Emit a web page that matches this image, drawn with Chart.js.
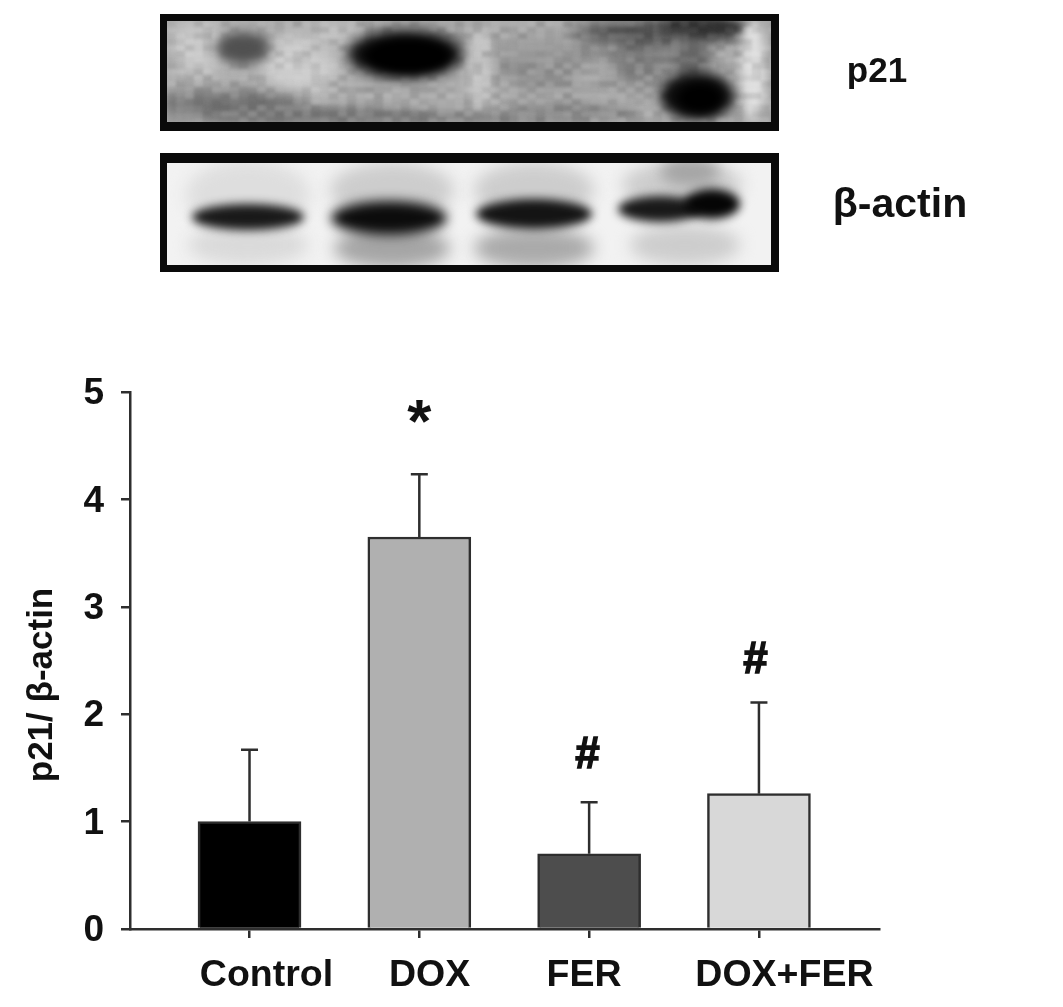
<!DOCTYPE html>
<html>
<head>
<meta charset="utf-8">
<style>html,body{margin:0;padding:0;background:#fff}canvas{display:block}</style>
<script src="https://cdn.jsdelivr.net/npm/chart.js@4"></script>
</head>
<body>
<canvas id="c" width="1063" height="1007"></canvas>
<script>
const categories = ["Control", "DOX", "FER", "DOX+FER"];
const means = [1.0, 3.65, 0.70, 1.26];
const errorTops = [1.67, 4.235, 1.18, 2.11];
const barColors = ["#000000", "#b0b0b0", "#4d4d4d", "#d8d8d8"];
const labelPositions = [0.1, 1.06, 1.97, 3.15];
const marks = ["", "*", "#", "#"];
const markValues = [0, 4.69, 1.61, 2.50];
const markPositions = [0, 1, 1.99, 2.98];
const yTitle = "p21/ β-actin";
const blotLabels = ["p21", "β-actin"];

const FONT = '"Liberation Sans", Arial, sans-serif';
const INK = "#2e2e2e";

/* Western-blot panels: [cx, cy, rx, ry, grey, blur] */
const blot1Back = [
  [195,50,28,30,200,9],[300,65,40,30,205,10],[340,40,30,20,190,8],[480,70,16,40,195,5],
  [235,105,75,14,120,7],[320,116,110,9,125,5],[450,118,120,6,130,4],[570,112,70,10,140,5],
  [550,65,55,28,150,10],[610,80,35,22,165,8],[640,60,30,25,130,9],
  [655,32,85,13,80,8],[700,28,45,11,50,5],[690,58,22,20,110,7],[753,70,12,50,222,4]
];
const blot1Bands = [
  [243,48,27,16,80,6],[405,54,58,24,10,7],[408,56,42,17,0,4],[697,96,37,24,12,6],[700,98,22,14,0,4]
];
const blot2Back = [
  [248,195,62,35,222,8],[248,245,60,20,218,8],[392,190,62,28,205,8],[392,248,58,20,165,8],
  [534,190,60,28,205,8],[534,248,60,20,170,8],[682,185,60,24,205,8],[685,245,55,20,205,8],
  [690,172,30,14,165,7]
];
const blot2Bands = [
  [248,217,56,13,25,5],[389,218,58,17,12,6],[534,214,58,15,20,5],[660,209,42,13,25,5],[712,204,28,15,5,5]
];
const grainCell = [9, 6];

function hash(a, b) {
  const v = Math.sin(a * 12.9898 + b * 78.233) * 43758.5453;
  return v - Math.floor(v);
}

function paintSpots(ctx, spots) {
  for (const s of spots) {
    ctx.filter = "blur(" + s[5] + "px)";
    ctx.fillStyle = "rgb(" + s[4] + "," + s[4] + "," + s[4] + ")";
    ctx.beginPath();
    ctx.ellipse(s[0], s[1], s[2], s[3], 0, 0, Math.PI * 2);
    ctx.fill();
  }
}

function drawBlot(ctx, box, inner, base, back, bands, grain) {
  ctx.save();
  ctx.fillStyle = base;
  ctx.fillRect(inner[0], inner[1], inner[2] - inner[0], inner[3] - inner[1]);
  ctx.beginPath();
  ctx.rect(inner[0], inner[1], inner[2] - inner[0], inner[3] - inner[1]);
  ctx.clip();
  paintSpots(ctx, back);
  if (grain) {
    ctx.filter = "blur(1.8px)";
    for (let gx = inner[0]; gx < inner[2]; gx += grainCell[0]) {
      for (let gy = inner[1]; gy < inner[3]; gy += grainCell[1]) {
        const h = hash(gx, gy);
        ctx.fillStyle = h > 0.5 ? "rgba(255,255,255," + (h - 0.5) * grain + ")" : "rgba(0,0,0," + (0.5 - h) * grain + ")";
        ctx.fillRect(gx, gy, grainCell[0], grainCell[1]);
      }
    }
  }
  paintSpots(ctx, bands);
  ctx.restore();
  ctx.save();
  ctx.fillStyle = "#0a0a0a";
  ctx.fillRect(box[0], box[1], box[2] - box[0], inner[1] - box[1]);
  ctx.fillRect(box[0], inner[3], box[2] - box[0], box[3] - inner[3]);
  ctx.fillRect(box[0], box[1], inner[0] - box[0], box[3] - box[1]);
  ctx.fillRect(inner[2], box[1], box[2] - inner[2], box[3] - box[1]);
  ctx.restore();
}

const figurePlugin = {
  id: "figure",
  beforeDraw(chart) {
    const ctx = chart.ctx;
    ctx.save();
    ctx.fillStyle = "#fff";
    ctx.fillRect(0, 0, chart.width, chart.height);
    ctx.restore();
    drawBlot(ctx, [160, 14, 779, 131], [167, 21, 771, 122], "rgb(172,172,172)", blot1Back, blot1Bands, 0.22);
    drawBlot(ctx, [160, 153, 779, 272], [167, 163, 771, 265], "rgb(242,242,242)", blot2Back, blot2Bands, 0);
    ctx.save();
    ctx.fillStyle = "#111";
    ctx.textAlign = "center";
    ctx.textBaseline = "alphabetic";
    ctx.font = "bold 35px " + FONT;
    ctx.fillText(blotLabels[0], 877, 82);
    ctx.font = "bold 41px " + FONT;
    ctx.fillText(blotLabels[1], 900, 217);
    ctx.restore();
  },
  afterDatasetsDraw(chart) {
    const ctx = chart.ctx, x = chart.scales.x, y = chart.scales.y;
    ctx.save();
    ctx.strokeStyle = INK;
    ctx.lineWidth = 2.5;
    errorTops.forEach((v, i) => {
      const px = x.getPixelForValue(i), top = y.getPixelForValue(v), base = y.getPixelForValue(means[i]);
      ctx.beginPath();
      ctx.moveTo(px, base); ctx.lineTo(px, top);
      ctx.moveTo(px - 8.5, top); ctx.lineTo(px + 8.5, top);
      ctx.stroke();
    });
    ctx.fillStyle = "#111";
    ctx.strokeStyle = "#111";
    ctx.textAlign = "center";
    ctx.textBaseline = "middle";
    marks.forEach((m, i) => {
      if (!m) return;
      ctx.font = "bold " + (m === "*" ? 62 : 44) + "px " + FONT;
      const mx = x.getPixelForValue(markPositions[i]), my = y.getPixelForValue(markValues[i]);
      ctx.fillText(m, mx, my);
      if (m === "#") { ctx.lineWidth = 1.5; ctx.strokeText(m, mx, my); }
    });
    ctx.font = "bold 37.5px " + FONT;
    ctx.textBaseline = "alphabetic";
    categories.forEach((c, i) => {
      ctx.fillText(c, x.getPixelForValue(labelPositions[i]), 986);
    });
    ctx.translate(52, 685);
    ctx.rotate(-Math.PI / 2);
    ctx.font = "bold 35px " + FONT;
    ctx.fillText(yTitle, 0, 0);
    ctx.restore();
  }
};

new Chart(document.getElementById("c"), {
  type: "bar",
  data: {
    datasets: [{
      data: means.map((v, i) => ({ x: i, y: v })),
      backgroundColor: barColors,
      borderColor: INK,
      borderWidth: 2.5,
      barThickness: 103
    }]
  },
  options: {
    responsive: false,
    animation: false,
    layout: { padding: { left: 0, right: 184, top: 392, bottom: 78 } },
    plugins: { legend: { display: false }, tooltip: { enabled: false } },
    scales: {
      x: {
        type: "linear",
        offset: false,
        min: -0.7038,
        max: 3.707,
        afterFit(s) { s.height = 0; },
        afterBuildTicks(s) { s.ticks = categories.map((_, i) => ({ value: i })); },
        ticks: { display: false },
        grid: { offset: false, drawOnChartArea: false, drawTicks: true, tickLength: 9, color: INK, lineWidth: 2.5 },
        border: { color: INK, width: 2.5 }
      },
      y: {
        min: 0,
        max: 5,
        afterFit(s) { s.width = 130; },
        ticks: { stepSize: 1, padding: 17, labelOffset: 2, color: "#111", font: { family: FONT, size: 37, weight: "bold" } },
        grid: { drawOnChartArea: false, drawTicks: true, tickLength: 9, color: INK, lineWidth: 2.5 },
        border: { color: INK, width: 2.5 }
      }
    }
  },
  plugins: [figurePlugin]
});
</script>
</body>
</html>
